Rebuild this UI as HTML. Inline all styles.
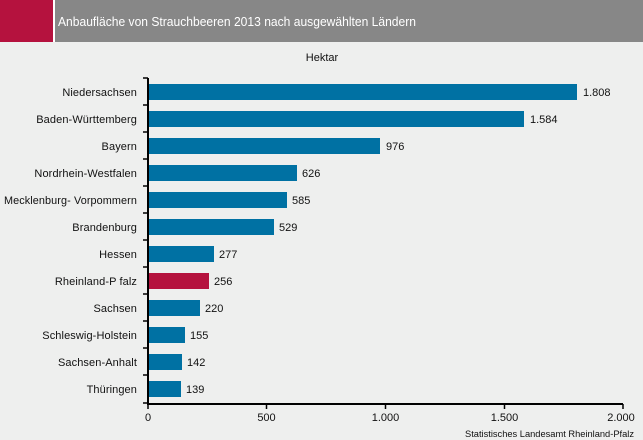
<!DOCTYPE html>
<html><head><meta charset="utf-8"><style>
html,body{margin:0;padding:0;background:#eeefee;}
svg{display:block;font-family:"Liberation Sans",Arial,sans-serif;}
</style></head><body>
<svg width="643" height="440" viewBox="0 0 643 440" xmlns="http://www.w3.org/2000/svg">
<rect x="0" y="0" width="643" height="440" fill="#eeefee"/>
<rect x="0" y="0" width="53" height="42" fill="#b5123e"/>
<rect x="53" y="0" width="2" height="42" fill="#ffffff"/>
<rect x="55" y="0" width="588" height="42" fill="#878787"/>
<text x="58" y="26" font-size="13" fill="#ffffff" textLength="358" lengthAdjust="spacingAndGlyphs">Anbaufläche von Strauchbeeren 2013 nach ausgewählten Ländern</text>
<text x="322" y="61" font-size="11" fill="#111" text-anchor="middle">Hektar</text>

<g fill="#0071a3">
<rect x="149" y="84" width="428" height="16"/>
<rect x="149" y="111" width="375" height="16"/>
<rect x="149" y="138" width="231" height="16"/>
<rect x="149" y="165" width="148" height="16"/>
<rect x="149" y="192" width="138" height="16"/>
<rect x="149" y="219" width="125" height="16"/>
<rect x="149" y="246" width="65" height="16"/>
<rect x="149" y="273" width="60" height="16" fill="#b5123e"/>
<rect x="149" y="300" width="51" height="16"/>
<rect x="149" y="327" width="36" height="16"/>
<rect x="149" y="354" width="33" height="16"/>
<rect x="149" y="381" width="32" height="16"/>
</g>

<g font-size="11" fill="#111">
<text x="583" y="96">1.808</text>
<text x="530" y="123">1.584</text>
<text x="386" y="150">976</text>
<text x="302" y="177">626</text>
<text x="292" y="204">585</text>
<text x="279" y="231">529</text>
<text x="219" y="258">277</text>
<text x="214" y="285">256</text>
<text x="205" y="312">220</text>
<text x="190" y="339">155</text>
<text x="187" y="366">142</text>
<text x="186" y="393">139</text>
</g>

<g font-size="11" fill="#111" text-anchor="end" letter-spacing="0.1">
<text x="137" y="96">Niedersachsen</text>
<text x="137" y="123">Baden-Württemberg</text>
<text x="137" y="150">Bayern</text>
<text x="137" y="177">Nordrhein-Westfalen</text>
<text x="137" y="204" textLength="133" lengthAdjust="spacingAndGlyphs">Mecklenburg- Vorpommern</text>
<text x="137" y="231">Brandenburg</text>
<text x="137" y="258">Hessen</text>
<text x="137" y="285">Rheinland-P falz</text>
<text x="137" y="312">Sachsen</text>
<text x="137" y="339">Schleswig-Holstein</text>
<text x="137" y="366">Sachsen-Anhalt</text>
<text x="137" y="393">Thüringen</text>
</g>

<g stroke="#000" stroke-width="2" fill="none">
<line x1="148" y1="78" x2="148" y2="404"/>
<line x1="147" y1="404" x2="623" y2="404"/>
</g>
<g stroke="#000" stroke-width="1.5">
<line x1="143" y1="78" x2="148" y2="78"/>
<line x1="143" y1="105" x2="148" y2="105"/>
<line x1="143" y1="132" x2="148" y2="132"/>
<line x1="143" y1="159" x2="148" y2="159"/>
<line x1="143" y1="186" x2="148" y2="186"/>
<line x1="143" y1="213" x2="148" y2="213"/>
<line x1="143" y1="240" x2="148" y2="240"/>
<line x1="143" y1="267" x2="148" y2="267"/>
<line x1="143" y1="294" x2="148" y2="294"/>
<line x1="143" y1="321" x2="148" y2="321"/>
<line x1="143" y1="348" x2="148" y2="348"/>
<line x1="143" y1="375" x2="148" y2="375"/>
<line x1="143" y1="403" x2="148" y2="403"/>
<line x1="148" y1="404" x2="148" y2="409"/>
<line x1="266.5" y1="404" x2="266.5" y2="409"/>
<line x1="385.5" y1="404" x2="385.5" y2="409"/>
<line x1="504.5" y1="404" x2="504.5" y2="409"/>
<line x1="623" y1="404" x2="623" y2="409"/>
</g>
<g font-size="11" fill="#111" text-anchor="middle">
<text x="148" y="421">0</text>
<text x="266.5" y="421">500</text>
<text x="385.5" y="421">1.000</text>
<text x="504.5" y="421">1.500</text>
<text x="621" y="421">2.000</text>
</g>
<text x="634" y="437" font-size="9" fill="#111" text-anchor="end" textLength="169" lengthAdjust="spacingAndGlyphs">Statistisches Landesamt Rheinland-Pfalz</text>
</svg>
</body></html>
